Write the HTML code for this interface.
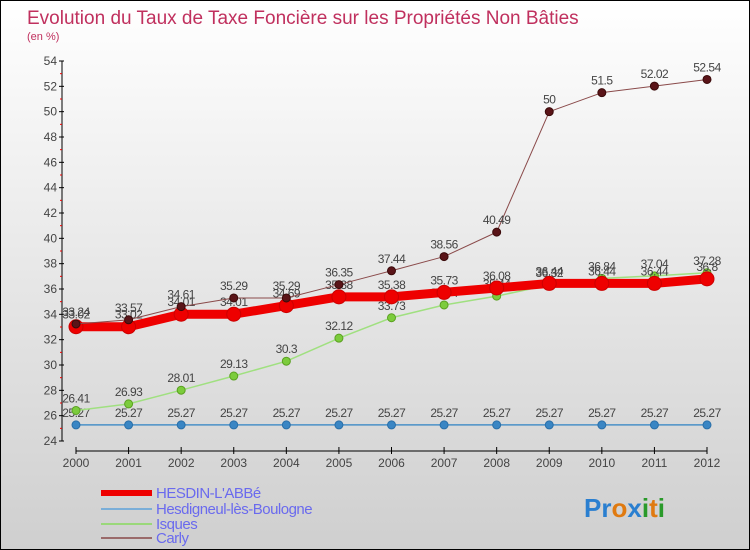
<!DOCTYPE html>
<html><head><meta charset="utf-8"><style>
body{margin:0;padding:0}
#wrap{position:relative;width:748px;height:548px;border:1px solid #000;background:linear-gradient(#ffffff,#cfcfcf);overflow:hidden;font-family:"Liberation Sans",sans-serif}
svg{position:absolute;left:0;top:0}
</style></head><body>
<div id="wrap">
<svg id="chart" width="750" height="550"></svg>
</div>
<script>
const years=[2000,2001,2002,2003,2004,2005,2006,2007,2008,2009,2010,2011,2012];
const hesdin=[33.02,33.02,34.01,34.01,34.69,35.38,35.38,35.73,36.08,36.44,36.44,36.44,36.8];
const hesdigneul=[25.27,25.27,25.27,25.27,25.27,25.27,25.27,25.27,25.27,25.27,25.27,25.27,25.27];
const isques=[26.41,26.93,28.01,29.13,30.3,32.12,33.73,34.74,35.44,36.32,36.84,37.04,37.28];
const carly=[33.24,33.57,34.61,35.29,35.29,36.35,37.44,38.56,40.49,50,51.5,52.02,52.54];
const yTicks=[24,26,28,30,32,34,36,38,40,42,44,46,48,50,52,54];
const seriesNames=["HESDIN-L'ABBé","Hesdigneul-lès-Boulogne","Isques","Carly"];

const NS="http://www.w3.org/2000/svg";
const svg=document.getElementById('chart');
function X(i){return 75+i*(706-75)/(years.length-1);}
function Y(v){return 440-(v-24)*(380/30);}
function mk(tag,attrs,parent){const e=document.createElementNS(NS,tag);for(const k in attrs)e.setAttribute(k,attrs[k]);(parent||svg).appendChild(e);return e;}
function txt(s,attrs,parent){const e=mk('text',attrs,parent);e.textContent=s;return e;}

let t=txt('Evolution du Taux de Taxe Foncière sur les Propriétés Non Bâties',{x:26,y:23,'font-size':19,fill:'#c0305e'});


t=txt('(en %)',{x:26,y:39,'font-size':11,fill:'#c0305e'});



// y axis
let ax=mk('line',{x1:61,y1:60,x2:61,y2:440,stroke:'#000','stroke-width':1});


yTicks.forEach(v=>{
  const tk=mk('line',{x1:58,y1:Y(v),x2:63,y2:Y(v),stroke:'#000'});
  
  
  const l=txt(String(v),{x:56,y:Y(v)+4,'font-size':12,fill:'#444','text-anchor':'end'});
  
  
  if(v<54){const m=mk('line',{x1:59,y1:Y(v+1),x2:61,y2:Y(v+1),stroke:'#e00'});
  
  }
});
// x axis
ax=mk('line',{x1:75,y1:450,x2:706,y2:450,stroke:'#000'});


years.forEach((y,i)=>{
  const tk=mk('line',{x1:X(i),y1:446,x2:X(i),y2:453,stroke:'#000'});
  
  
  const l=txt(String(y),{x:X(i),y:466,'font-size':12,fill:'#444','text-anchor':'middle'});
  
  
});

function series(vals,color,width,r,dot,dotStroke,name){
  const g=mk('g',{});
  
  
  mk('polyline',{points:vals.map((v,i)=>X(i)+','+Y(v)).join(' '),fill:'none',stroke:color,'stroke-width':width,'stroke-linejoin':'round'},g);
  vals.forEach((v,i)=>{
    const c=mk('circle',{cx:X(i),cy:Y(v),r:r,fill:dot,stroke:dotStroke,'stroke-width':1},g);
    
    
    const l=txt(String(v),{x:X(i),y:Y(v)-8,'font-size':12,fill:'#444','text-anchor':'middle','letter-spacing':'-0.5'},g);
    
    
  });
}
series(hesdigneul,'#4a90c8',1.5,4,'#3a86c4','#2a6fa8','series-hesdigneul');
series(isques,'#a0e080',1.5,4,'#7ccc3c','#5aa020','series-isques');
series(hesdin,'#ee0000',9,7,'#ee0000','#cc0000','series-hesdin');
series(carly,'#8a4a4a',1,4,'#5a1418','#3a0a0a','series-carly');

// legend
const legColors=['#ee0000','#7aaed8','#9ad87a','#9a6a6a'];
const legW=[6,2,2,2];
const legY=[492,508,523,537];
seriesNames.forEach((n,i)=>{
  const g=mk('g',{});
  
  
  mk('line',{x1:100,y1:legY[i],x2:151,y2:legY[i],stroke:legColors[i],'stroke-width':legW[i]},g);
  txt(n,{x:155,y:legY[i]+5,'font-size':15,fill:'#6a6aee','letter-spacing':'-0.5'},g);
});
// logo
const lg=mk('text',{x:583,y:516,'font-size':26,'font-weight':'bold','font-family':'"Liberation Sans",sans-serif'});


[['Pr','#2a7fd0'],['o','#e07a10'],['x','#2a7fd0'],['i','#2a9a2a'],['t','#e07a10'],['i','#2a9a2a']].forEach(([s,c])=>{const ts=document.createElementNS(NS,'tspan');ts.setAttribute('fill',c);ts.textContent=s;lg.appendChild(ts);});
</script>
</body></html>
